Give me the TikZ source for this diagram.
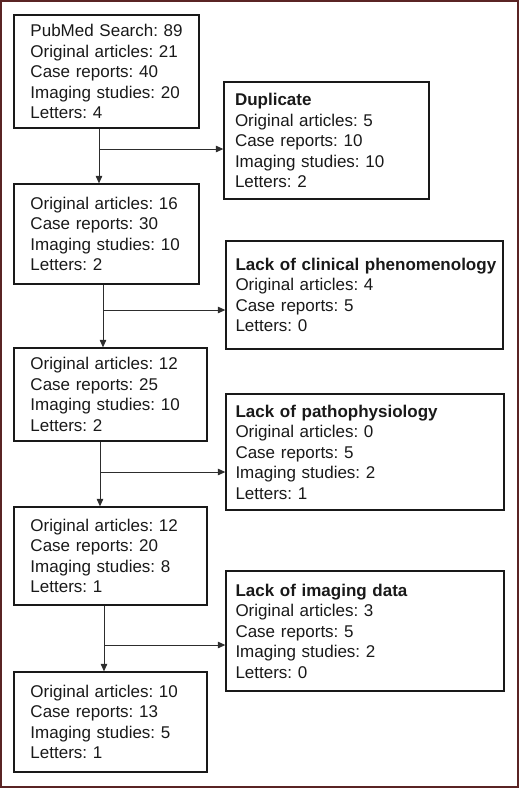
\documentclass[tikz,border=0pt]{standalone}
\usepackage{fontspec}
\setmainfont{Liberation Sans}
\usetikzlibrary{arrows.meta}
\definecolor{frame}{RGB}{90,36,36}
\definecolor{ink}{RGB}{25,25,25}
\definecolor{arrink}{RGB}{45,45,45}
\newcommand{\oneline}[1]{\mbox{#1}}
\begin{document}
\begin{tikzpicture}[x=1pt,y=-1pt,
  box/.style={draw=ink, line width=1.3pt, rectangle, inner ysep=0pt, align=left,
    font=\fontsize{17}{20.5}\selectfont\frenchspacing, text=ink},
  lbox/.style={box, inner xsep=16.5pt},
  rbox/.style={box, inner xsep=9.5pt},
  arr/.style={draw=arrink, line width=1pt, -{Triangle[length=7.5pt,width=6.5pt]}}]
\useasboundingbox (0,0) rectangle (519,788);
\draw[frame, line width=2.2pt] (1.1,1.1) rectangle (517.9,786.9);

% left column
\node[lbox, text width=152pt, minimum height=113pt] (b1) at (106.5,71.5)
  {\oneline{PubMed Search: 89}\\\oneline{Original articles: 21}\\\oneline{Case reports: 40}\\\oneline{Imaging studies: 20}\\\oneline{Letters: 4}};
\node[lbox, text width=152pt, minimum height=100pt] (b2) at (106.5,234)
  {\oneline{Original articles: 16}\\\oneline{Case reports: 30}\\\oneline{Imaging studies: 10}\\\oneline{Letters: 2}};
\node[lbox, text width=160pt, minimum height=93pt] (b3) at (110.5,394.5)
  {\oneline{Original articles: 12}\\\oneline{Case reports: 25}\\\oneline{Imaging studies: 10}\\\oneline{Letters: 2}};
\node[lbox, text width=160pt, minimum height=98pt] (b4) at (110.5,556)
  {\oneline{Original articles: 12}\\\oneline{Case reports: 20}\\\oneline{Imaging studies: 8}\\\oneline{Letters: 1}};
\node[lbox, text width=160pt, minimum height=100pt] (b5) at (110.5,722)
  {\oneline{Original articles: 10}\\\oneline{Case reports: 13}\\\oneline{Imaging studies: 5}\\\oneline{Letters: 1}};

% right column
\node[rbox, inner xsep=11pt, text width=183pt, minimum height=117pt] (d1) at (326.5,140.5)
  {\oneline{\textbf{Duplicate}}\\\oneline{Original articles: 5}\\\oneline{Case reports: 10}\\\oneline{Imaging studies: 10}\\\oneline{Letters: 2}};
\node[rbox, text width=258pt, minimum height=108pt] (d2) at (364.5,295)
  {\oneline{\textbf{Lack of clinical phenomenology}}\\\oneline{Original articles: 4}\\\oneline{Case reports: 5}\\\oneline{Letters: 0}};
\node[rbox, text width=259pt, minimum height=116pt] (d3) at (365,452)
  {\oneline{\textbf{Lack of pathophysiology}}\\\oneline{Original articles: 0}\\\oneline{Case reports: 5}\\\oneline{Imaging studies: 2}\\\oneline{Letters: 1}};
\node[rbox, text width=259pt, minimum height=120pt] (d4) at (365,631)
  {\oneline{\textbf{Lack of imaging data}}\\\oneline{Original articles: 3}\\\oneline{Case reports: 5}\\\oneline{Imaging studies: 2}\\\oneline{Letters: 0}};

% junctions
\coordinate (j1) at (99,149);
\coordinate (j2) at (103,310);
\coordinate (j3) at (100,472);
\coordinate (j4) at (104,645);

\draw[arr] (b1.south -| j1) -- (b2.north -| j1);
\draw[arr] (j1) -- (j1 -| d1.west);
\draw[arr] (b2.south -| j2) -- (b3.north -| j2);
\draw[arr] (j2) -- (j2 -| d2.west);
\draw[arr] (b3.south -| j3) -- (b4.north -| j3);
\draw[arr] (j3) -- (j3 -| d3.west);
\draw[arr] (b4.south -| j4) -- (b5.north -| j4);
\draw[arr] (j4) -- (j4 -| d4.west);
\end{tikzpicture}
\end{document}
